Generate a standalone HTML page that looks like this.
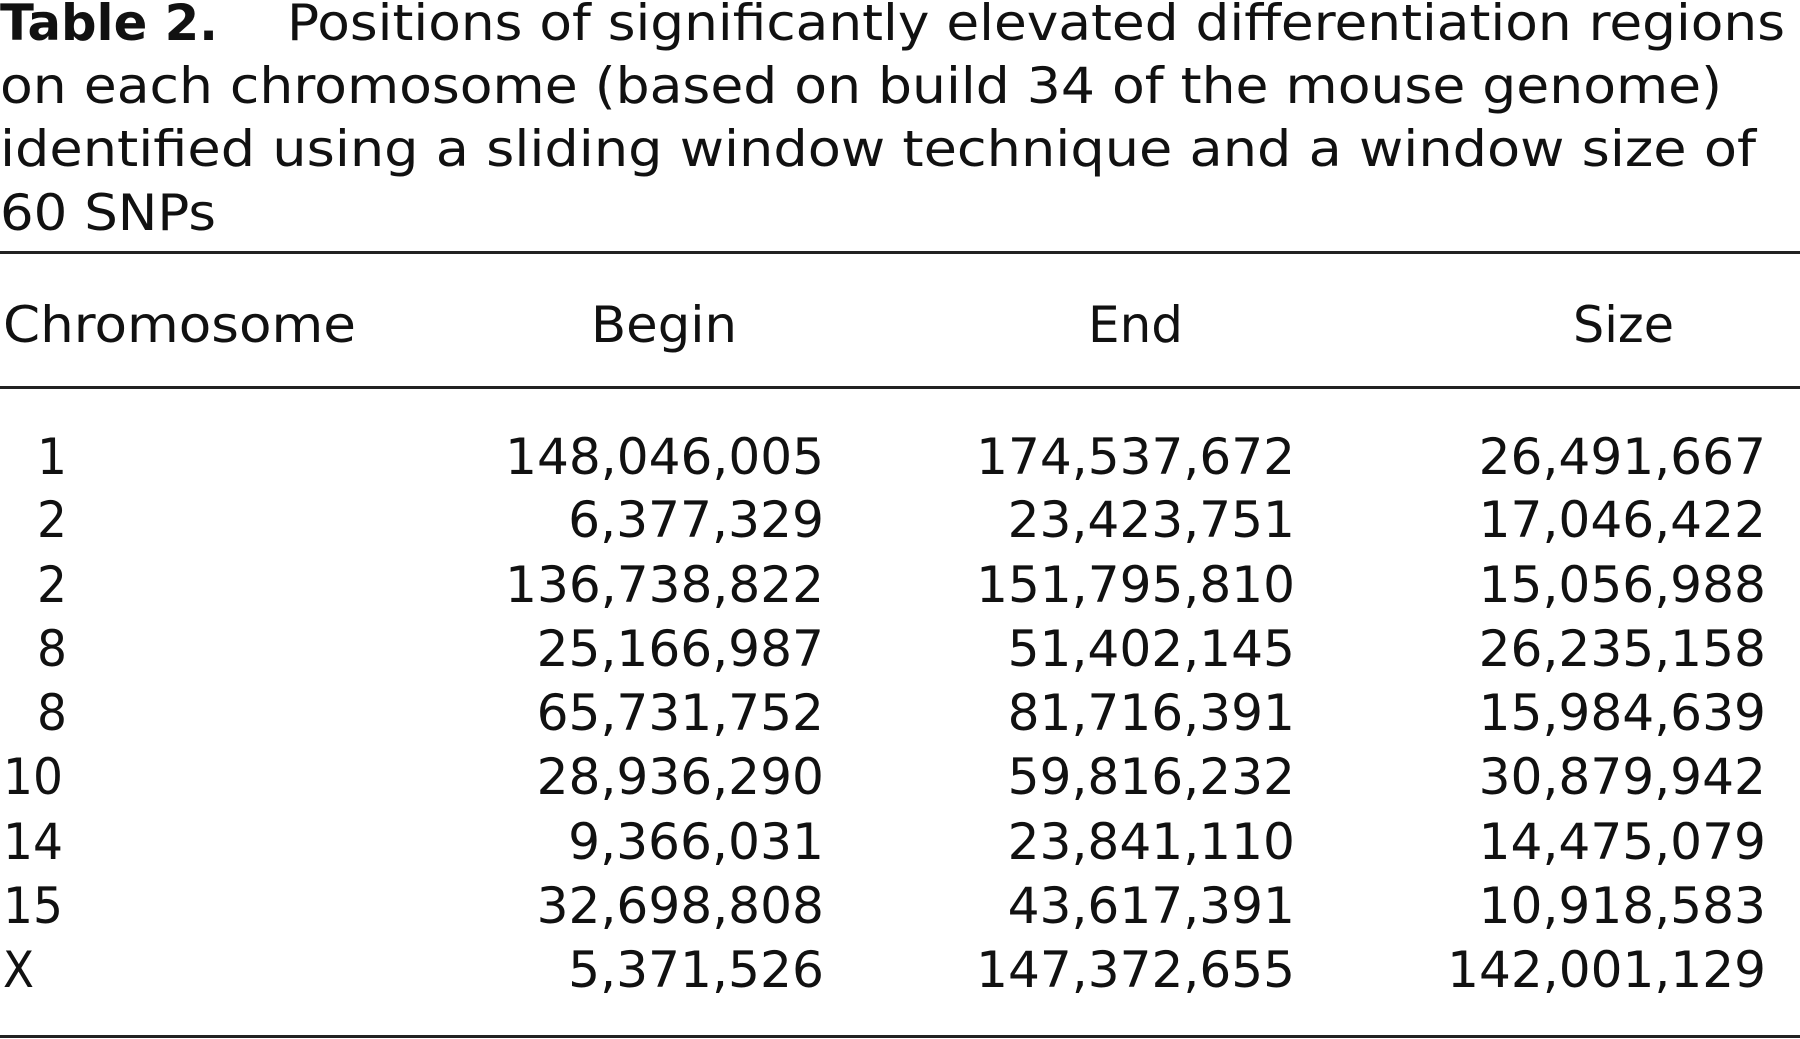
<!DOCTYPE html>
<html><head><meta charset="utf-8"><style>
html,body{margin:0;padding:0;background:#fff;}
svg{display:block;}
text{font-family:"DejaVu Sans","Liberation Sans",sans-serif;fill:#111;font-size:50px;}
</style></head><body>
<svg width="1800" height="1039" viewBox="0 0 1800 1039" xmlns="http://www.w3.org/2000/svg">
<text x="0" y="40" font-weight="bold" textLength="218" lengthAdjust="spacingAndGlyphs">Table 2.</text>
<text x="287" y="40" textLength="1498" lengthAdjust="spacingAndGlyphs">Positions of significantly elevated differentiation regions</text>
<text x="0" y="103" textLength="1722" lengthAdjust="spacingAndGlyphs">on each chromosome (based on build 34 of the mouse genome)</text>
<text x="0" y="166" textLength="1756" lengthAdjust="spacingAndGlyphs">identified using a sliding window technique and a window size of</text>
<text x="0" y="230" textLength="216" lengthAdjust="spacingAndGlyphs">60 SNPs</text>
<rect x="0" y="251" width="1800" height="3" fill="#222"/>
<text x="3" y="342" textLength="353" lengthAdjust="spacingAndGlyphs">Chromosome</text>
<text x="591" y="342" textLength="146" lengthAdjust="spacingAndGlyphs">Begin</text>
<text x="1088" y="342" textLength="95" lengthAdjust="spacingAndGlyphs">End</text>
<text x="1573" y="342" textLength="101" lengthAdjust="spacingAndGlyphs">Size</text>
<rect x="0" y="386" width="1800" height="3" fill="#222"/>
<g id="rows"></g>
<rect x="0" y="1035" width="1800" height="3" fill="#222"/>
</svg>
<script>
var rows=[["1","148,046,005","174,537,672","26,491,667"],["2","6,377,329","23,423,751","17,046,422"],["2","136,738,822","151,795,810","15,056,988"],["8","25,166,987","51,402,145","26,235,158"],["8","65,731,752","81,716,391","15,984,639"],["10","28,936,290","59,816,232","30,879,942"],["14","9,366,031","23,841,110","14,475,079"],["15","32,698,808","43,617,391","10,918,583"],["X","5,371,526","147,372,655","142,001,129"]];
var ys=[474,537,602,666,730,794,859,923,987],rights=[824,1295,1766];
var g=document.getElementById('rows'),ns="http://www.w3.org/2000/svg",h="";
function w(s){var d=0,c=0;for(var ch of s){if(ch==',')c++;else d++;}return d*31.5+c*17.7;}
rows.forEach(function(r,i){
 var y=ys[i];
 var lx=r[0].length==1&&r[0]!="X"?37:3;
 var lw=r[0]=="X"?31:r[0].length*30;
 h+='<text x="'+lx+'" y="'+y+'" textLength="'+lw+'" lengthAdjust="spacingAndGlyphs">'+r[0]+'</text>';
 for(var k=0;k<3;k++){var s=r[k+1],ww=w(s);h+='<text x="'+(rights[k]-ww)+'" y="'+y+'" textLength="'+ww+'" lengthAdjust="spacingAndGlyphs">'+s+'</text>';}
});
g.innerHTML=h;
</script>
</body></html>
